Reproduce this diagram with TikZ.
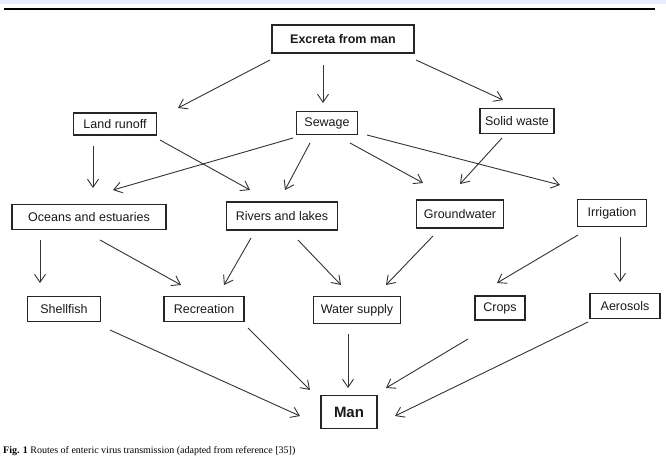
\documentclass[tikz,border=0pt]{standalone}
\usepackage{fontspec}
\setmainfont{Liberation Sans}
\newfontfamily\capfont{Liberation Serif}
\usetikzlibrary{arrows.meta,calc}
\tikzset{
  box/.style={draw=black!85, line width=1.1pt, inner sep=0pt, font=\fontsize{12.5}{14}\selectfont, text=black!90},
  arr/.style={draw=black!80, line width=0.9pt, -{Straight Barb[length=8pt,width=11pt,line width=0.9pt]}}
}
\begin{document}
\begin{tikzpicture}[x=1pt,y=-1pt]
\useasboundingbox (0,0) rectangle (666,469);
\fill[blue!8] (0,0) rectangle (666,4);
\draw[line width=1.2pt] (4,9) -- (655,9);

\node[box, minimum width=142, minimum height=28, font=\bfseries\fontsize{12.5}{14}\selectfont] (ex) at (343,39) {Excreta from man};
\node[box, minimum width=83, minimum height=22] (lr) at (115,124) {Land runoff};
\node[box, minimum width=61, minimum height=23] (sew) at (327,123) {Sewage};
\node[box, minimum width=74, minimum height=25] (sol) at (517,121) {Solid waste};
\node[box, minimum width=154, minimum height=25] (oc) at (89,217) {Oceans and estuaries};
\node[box, minimum width=111, minimum height=28] (ri) at (282,216) {Rivers and lakes};
\node[box, minimum width=87, minimum height=28] (gw) at (460,214) {Groundwater};
\node[box, minimum width=69, minimum height=27] (ir) at (612,213) {Irrigation};
\node[box, minimum width=73, minimum height=25] (sh) at (64,309) {Shellfish};
\node[box, minimum width=80, minimum height=25] (re) at (204,309) {Recreation};
\node[box, minimum width=87, minimum height=27] (ws) at (357,310) {Water supply};
\node[box, minimum width=50, minimum height=24] (cr) at (500,308) {Crops};
\node[box, minimum width=70, minimum height=25] (ae) at (625,306) {Aerosols};
\node[box, minimum width=56, minimum height=33, font=\bfseries\fontsize{15}{17}\selectfont] (man) at (349,412) {Man};

\draw[arr] ($(ex)+(-73,21)$) -- ($(lr)+(63,-16)$);
\draw[arr] ($(ex)+(-20,26)$) -- ($(sew)+(-4,-20)$);
\draw[arr] ($(ex)+(73,21)$) -- ($(sol)+(-14,-21)$);
\draw[arr] ($(lr)+(-22,22)$) -- ($(oc)+(4,-29)$);
\draw[arr] ($(lr)+(45,16)$) -- ($(ri)+(-32,-26)$);
\draw[arr] ($(sew)+(-34,15)$) -- ($(oc)+(24,-27)$);
\draw[arr] ($(sew)+(-17,20)$) -- ($(ri)+(3,-26)$);
\draw[arr] ($(sew)+(23,20)$) -- ($(gw)+(-37,-31)$);
\draw[arr] ($(sew)+(40,12)$) -- ($(ir)+(-52,-28)$);
\draw[arr] ($(sol)+(-15,17)$) -- ($(gw)+(0,-30)$);
\draw[arr] ($(oc)+(-49,23)$) -- ($(sh)+(-24,-26)$);
\draw[arr] ($(oc)+(11,23)$) -- ($(re)+(-23,-24)$);
\draw[arr] ($(ri)+(-31,22)$) -- ($(re)+(20,-24)$);
\draw[arr] ($(ri)+(16,24)$) -- ($(ws)+(-16,-25)$);
\draw[arr] ($(gw)+(-27,22)$) -- ($(ws)+(29,-25)$);
\draw[arr] ($(ir)+(-34,22)$) -- ($(cr)+(-3,-25)$);
\draw[arr] ($(ir)+(8,24)$) -- ($(ae)+(-5,-24)$);
\draw[arr] ($(sh)+(46,21)$) -- ($(man)+(-49,4)$);
\draw[arr] ($(re)+(44,19)$) -- ($(man)+(-39,-22)$);
\draw[arr] ($(ws)+(-9,24)$) -- ($(man)+(-1,-24)$);
\draw[arr] ($(cr)+(-32,31)$) -- ($(man)+(37,-24)$);
\draw[arr] ($(ae)+(-37,16)$) -- ($(man)+(46,4)$);

\node[anchor=west, inner sep=0pt, font=\capfont\fontsize{10}{12}\selectfont] (cap) at (3,451) {\textbf{Fig. 1} Routes of enteric virus transmission (adapted from reference [35])};
\end{tikzpicture}
\end{document}
